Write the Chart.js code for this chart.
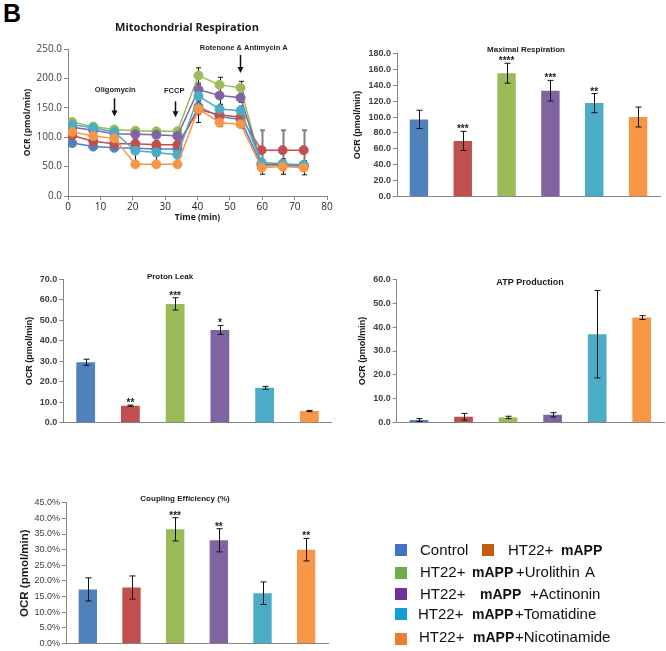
<!DOCTYPE html>
<html>
<head>
<meta charset="utf-8">
<script src="https://cdn.jsdelivr.net/npm/chart.js@4.4.1/dist/chart.umd.min.js"></script>
<style>
  body { margin: 0; background: #fff; }
  #page { position: relative; width: 666px; height: 651px; overflow: hidden; font-family: "Liberation Sans", Arial, sans-serif; }
  canvas { position: absolute; left: 0; top: 0; }
  .row { position: absolute; white-space: nowrap; font-size: 15px; line-height: 15px; color: #111; }
  .row span, .row b { display: inline-block; white-space: pre; }
  .row b { font-size: 14px; }
  .sq { position: absolute; width: 12px; height: 12px; }
</style>
</head>
<body>
<div id="page">
  <div style="position:absolute;left:3px;top:-1px;font:bold 25px 'Liberation Sans';">B</div>
  <canvas id="resp" width="666" height="651"></canvas>
  <canvas id="maxResp" width="666" height="651"></canvas>
  <canvas id="proton" width="666" height="651"></canvas>
  <canvas id="atp" width="666" height="651"></canvas>
  <canvas id="coupling" width="666" height="651"></canvas>

  <div class="sq" style="left:395px;top:544px;background:#4472c4"></div>
  <div class="sq" style="left:482px;top:544px;background:#c55a11"></div>
  <div class="sq" style="left:395px;top:567px;background:#70ad47"></div>
  <div class="sq" style="left:395px;top:588px;background:#7030a0"></div>
  <div class="sq" style="left:395px;top:608px;background:#0f9ed5"></div>
  <div class="sq" style="left:395px;top:633px;background:#ed7d31"></div>
  <div class="row" style="left:420px;top:542px"><span style="width:88px">Control</span><span style="width:53px">HT22+</span><b>mAPP</b></div>
  <div class="row" style="left:420px;top:564px"><span style="width:52px">HT22+</span><b style="width:44px">mAPP</b><span style="width:69px">+Urolithin</span><span>A</span></div>
  <div class="row" style="left:420px;top:586px"><span style="width:60px">HT22+</span><b style="width:50px">mAPP</b><span>+Actinonin</span></div>
  <div class="row" style="left:418px;top:606px"><span style="width:54px">HT22+</span><b style="width:43px">mAPP</b><span>+Tomatidine</span></div>
  <div class="row" style="left:419px;top:629px"><span style="width:54px">HT22+</span><b style="width:42px">mAPP</b><span>+Nicotinamide</span></div>
</div>
<script>
// groups and colours
const groups = ['Control', 'HT22+ mAPP', 'HT22+ mAPP+Urolithin A', 'HT22+ mAPP+Actinonin', 'HT22+ mAPP+Tomatidine', 'HT22+ mAPP+Nicotinamide'];
const barColors = ['#4f81bd', '#c0504d', '#9bbb59', '#8064a2', '#4bacc6', '#f79646'];

// Mitochondrial respiration time course
const times = [1.3, 7.8, 14.3, 20.8, 27.3, 33.8, 40.3, 46.8, 53.3, 59.8, 66.3, 72.8];
const ocrControl = [90, 84, 82, 81, 80, 80, 152, 135, 130, 52, 52, 51];
const ocrMapp    = [103, 93, 89, 89, 87, 87, 147, 138, 134, 78, 78, 78];
const ocrUro     = [126, 118, 113, 111, 110, 110, 205, 189, 184, 52, 52, 52];
const ocrAct     = [117, 112, 106, 105, 104, 102, 181, 171, 167, 54, 53, 52];
const ocrTom     = [121, 116, 109, 77, 74, 70, 170, 148, 145, 57, 55, 53];
const ocrNic     = [109, 102, 98, 54, 54, 54, 148, 125, 122, 48, 50, 48];
const errControl = [3, 3, 3, 3, 3, 3, 8, 6, 6, 5, 5, 5];
const errMapp    = [4, 4, 4, 4, 4, 4, 8, 6, 6, 34, 34, 34];
const errUro     = [3, 3, 3, 3, 3, 3, 13, 13, 11, 4, 4, 4];
const errAct     = [3, 3, 3, 3, 3, 3, 8, 16, 8, 4, 4, 4];
const errTom     = [3, 3, 3, 20, 20, 20, 8, 8, 8, 4, 4, 4];
const errNic     = [3, 3, 3, 3, 3, 3, 23, 7, 7, 11, 13, 12];
const timeTicks = [0, 10, 20, 30, 40, 50, 60, 70, 80];
const respTicks = [0, 50, 100, 150, 200, 250];

// bar panels
const maxResp = [97, 70, 155, 133, 117.5, 100];
const maxRespErr = [11.5, 12, 12.5, 13, 12, 12.5];
const maxRespSig = ['', '***', '****', '***', '**', ''];
const maxRespTicks = [0, 20, 40, 60, 80, 100, 120, 140, 160, 180];

const protonLeak = [29.5, 8.3, 58, 45.3, 17, 5.7];
const protonErr = [1.5, 0.3, 3, 2.2, 0.7, 0.3];
const protonSig = ['', '**', '***', '*', '', ''];
const protonTicks = [0, 10, 20, 30, 40, 50, 60, 70];

const atpProd = [1.1, 2.5, 2.2, 3.3, 37, 44];
const atpErr = [0.6, 1.4, 0.5, 0.9, 18.3, 0.8];
const atpTicks = [0, 10, 20, 30, 40, 50, 60];

const coupling = [17.3, 17.9, 36.5, 33, 16.1, 30];
const couplingErr = [3.7, 3.7, 3.7, 3.7, 3.6, 3.6];
const couplingSig = ['', '', '***', '**', '', '**'];
const couplingTicks = [0, 5, 10, 15, 20, 25, 30, 35, 40, 45];

const W = 666, H = 651;
const AXIS = '#868686';

function valueOf(d) { return (d !== null && typeof d === 'object') ? d.y : d; }

function drawErrors(chart, o) {
  const ctx = chart.ctx, ys = chart.scales.y;
  chart.data.datasets.forEach((ds, i) => {
    if (!ds.errors) return;
    const meta = chart.getDatasetMeta(i);
    ctx.save();
    ctx.strokeStyle = ds.errColor || '#111';
    ctx.lineWidth = ds.errWidth || 1;
    meta.data.forEach((el, j) => {
      const e = ds.errors[j];
      if (!e) return;
      const v = valueOf(ds.data[j]);
      const x = Math.round(el.x) + 0.5;
      const y1 = ys.getPixelForValue(v + e), y2 = ys.getPixelForValue(v - e);
      const c = o.cap || 3;
      ctx.beginPath();
      ctx.moveTo(x, y1); ctx.lineTo(x, y2);
      ctx.moveTo(x - c, y1); ctx.lineTo(x + c, y1);
      ctx.moveTo(x - c, y2); ctx.lineTo(x + c, y2);
      ctx.stroke();
    });
    ctx.restore();
  });
}

function drawStars(chart) {
  const ctx = chart.ctx, ys = chart.scales.y;
  chart.data.datasets.forEach((ds, i) => {
    if (!ds.sig) return;
    const meta = chart.getDatasetMeta(i);
    ctx.save();
    ctx.font = 'bold 10px "Liberation Sans"';
    ctx.fillStyle = '#1a1a1a';
    ctx.textAlign = 'center';
    ctx.textBaseline = 'alphabetic';
    meta.data.forEach((el, j) => {
      const s = ds.sig[j];
      if (!s) return;
      const top = ys.getPixelForValue(ds.data[j] + (ds.errors ? ds.errors[j] : 0));
      ctx.fillText(s, el.x, top + 1);
    });
    ctx.restore();
  });
}

const extras = {
  id: 'extras',
  beforeDatasetsDraw(chart, args, o) { if (o.errorsUnder) drawErrors(chart, o); },
  afterDatasetsDraw(chart, args, o) {
    if (!o.errorsUnder) drawErrors(chart, o);
    drawStars(chart);
  },
  afterDraw(chart, args, o) {
    const ctx = chart.ctx;
    ctx.save();
    if (o.title) {
      ctx.font = o.title.font;
      ctx.fillStyle = '#1a1a1a';
      ctx.textAlign = 'center';
      ctx.textBaseline = 'middle';
      ctx.fillText(o.title.text, o.title.x, o.title.y);
    }
    const xs = chart.scales.x, ys = chart.scales.y;
    (o.arrows || []).forEach(a => {
      const x = Math.round(xs.getPixelForValue(a.t)) + 0.5;
      const y1 = ys.getPixelForValue(a.from), y2 = ys.getPixelForValue(a.to);
      ctx.strokeStyle = '#111';
      ctx.fillStyle = '#111';
      ctx.lineWidth = 1.5;
      ctx.beginPath();
      ctx.moveTo(x, y1); ctx.lineTo(x, y2 - 5);
      ctx.stroke();
      ctx.beginPath();
      ctx.moveTo(x - 3, y2 - 6); ctx.lineTo(x + 3, y2 - 6); ctx.lineTo(x, y2);
      ctx.closePath();
      ctx.fill();
      ctx.font = 'bold 7.5px "Liberation Sans"';
      ctx.fillStyle = '#222';
      ctx.textAlign = 'center';
      ctx.textBaseline = 'middle';
      ctx.fillText(a.label, xs.getPixelForValue(a.lt), ys.getPixelForValue(a.lv));
    });
    ctx.restore();
  }
};
Chart.register(extras);

// plot rectangle -> layout padding + fixed axis sizes
function frame(r) {
  const half = r.tsize * 1.2 / 2;
  return {
    padding: { left: r.titleX - half, top: r.T, right: W - r.R, bottom: H - r.B - r.xh },
    yWidth: r.L - (r.titleX - half)
  };
}

function yAxis(ticks, fmt, width, tickFont, titleFont) {
  return {
    min: ticks[0], max: ticks[ticks.length - 1],
    afterBuildTicks: s => { s.ticks = ticks.map(v => ({ value: v })); },
    ticks: { callback: fmt, font: tickFont, color: '#404040', padding: 2 },
    grid: { drawOnChartArea: false, drawTicks: true, tickLength: 4, color: AXIS },
    border: { color: AXIS },
    title: { display: true, text: 'OCR (pmol/min)', font: titleFont, color: '#1a1a1a', padding: 0 },
    afterFit: s => { s.width = width; }
  };
}

function barChart(id, values, errors, sig, ticks, fmt, rect, title, tickFont) {
  const f = frame(rect);
  return new Chart(document.getElementById(id), {
    type: 'bar',
    data: {
      labels: groups,
      datasets: [{ data: values, errors: errors, sig: sig, backgroundColor: barColors,
                   categoryPercentage: 1, barPercentage: 0.42 }]
    },
    options: {
      responsive: false, animation: false, events: [],
      layout: { padding: f.padding },
      plugins: { legend: { display: false }, tooltip: { enabled: false }, extras: { title: title, cap: 3 } },
      scales: {
        x: { ticks: { display: false }, grid: { display: false }, border: { color: AXIS },
             afterFit: s => { s.height = 0; } },
        y: yAxis(ticks, fmt, f.yWidth, tickFont, { family: 'Liberation Sans', size: rect.tsize, weight: 'bold' })
      }
    }
  });
}

// Mitochondrial Respiration line chart
const respSeries = [ocrControl, ocrMapp, ocrUro, ocrAct, ocrTom, ocrNic];
const respErrors = [errControl, errMapp, errUro, errAct, errTom, errNic];
const respRect = { L: 68, R: 327, T: 49, B: 196, titleX: 28, tsize: 8.5, xh: 218 + 5.1 - 196 };
const rf = frame(respRect);
new Chart(document.getElementById('resp'), {
  type: 'line',
  data: {
    datasets: respSeries.map((vals, i) => ({
      data: times.map((t, j) => ({ x: t, y: vals[j] })),
      errors: respErrors[i],
      errColor: i === 1 ? '#808080' : '#111',
      errWidth: i === 1 ? 2 : 1,
      borderColor: barColors[i],
      backgroundColor: barColors[i],
      pointBackgroundColor: barColors[i],
      pointBorderColor: barColors[i],
      borderWidth: 1.5,
      pointRadius: 4.5,
      pointBorderWidth: 1,
      order: 5 - i
    }))
  },
  options: {
    responsive: false, animation: false, events: [],
    layout: { padding: rf.padding },
    plugins: {
      legend: { display: false }, tooltip: { enabled: false },
      extras: {
        errorsUnder: true, cap: 2.5,
        title: { text: 'Mitochondrial Respiration', x: 187, y: 28, font: 'bold 11px "Open Sans"' },
        arrows: [
          { t: 14.3, from: 166, to: 135, label: 'Oligomycin', lt: 14.6, lv: 180 },
          { t: 32.9, from: 161, to: 134, label: 'FCCP', lt: 32.8, lv: 179 },
          { t: 53.1, from: 240, to: 209, label: 'Rotenone & Antimycin A', lt: 54.3, lv: 252 }
        ]
      }
    },
    scales: {
      x: {
        type: 'linear', min: 0, max: 80,
        afterBuildTicks: s => { s.ticks = timeTicks.map(v => ({ value: v })); },
        ticks: { font: { family: 'Open Sans', size: 10 }, color: '#262626', padding: 1 },
        grid: { drawOnChartArea: false, drawTicks: true, tickLength: 4, color: AXIS },
        border: { color: AXIS },
        title: { display: true, text: 'Time (min)', font: { family: 'Open Sans', size: 8.5, weight: 'bold' }, color: '#1a1a1a', padding: 0 },
        afterFit: s => { s.height = respRect.xh; }
      },
      y: yAxis(respTicks, v => v.toFixed(1), rf.yWidth, { family: 'Open Sans', size: 10 },
               { family: 'Open Sans', size: 8.5, weight: 'bold' })
    }
  }
});

const boldTick = { family: 'Liberation Sans', size: 9, weight: 'bold' };
barChart('maxResp', maxResp, maxRespErr, maxRespSig, maxRespTicks, v => v.toFixed(1),
  { L: 397, R: 660, T: 53.3, B: 196.7, titleX: 358, tsize: 9, xh: 0 },
  { text: 'Maximal Respiration', x: 526, y: 50, font: 'bold 8px "Liberation Sans"' }, boldTick);

barChart('proton', protonLeak, protonErr, protonSig, protonTicks, v => v.toFixed(1),
  { L: 63.3, R: 331.7, T: 279.3, B: 422.7, titleX: 30, tsize: 9, xh: 0 },
  { text: 'Proton Leak', x: 170, y: 277, font: 'bold 8px "Liberation Sans"' }, boldTick);

barChart('atp', atpProd, atpErr, null, atpTicks, v => v.toFixed(1),
  { L: 396.7, R: 664, T: 279.3, B: 422.7, titleX: 363, tsize: 9, xh: 0 },
  { text: 'ATP Production', x: 530, y: 283, font: 'bold 9px "Liberation Sans"' }, boldTick);

barChart('coupling', coupling, couplingErr, couplingSig, couplingTicks, v => v.toFixed(1) + '%',
  { L: 66, R: 328, T: 502.7, B: 646, titleX: 25, tsize: 11.5, xh: 0 },
  { text: 'Coupling Efficiency (%)', x: 185, y: 499, font: 'bold 8px "Liberation Sans"' },
  { family: 'Liberation Sans', size: 9 });
</script>
</body>
</html>
